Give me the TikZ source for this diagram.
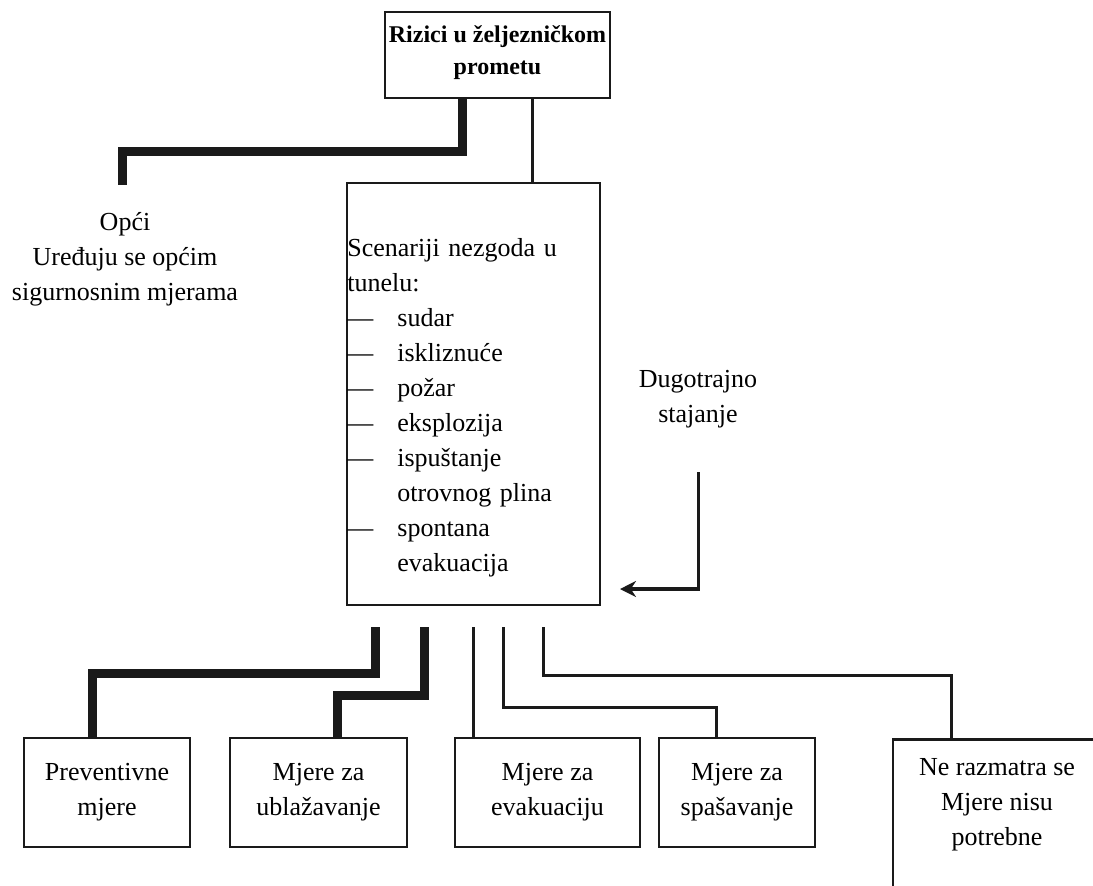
\documentclass[tikz,border=0pt]{standalone}
\usepackage{fontspec}
\setmainfont{Liberation Serif}
\usepackage{xcolor}
\definecolor{mInk}{HTML}{1A1A1A}
\usetikzlibrary{positioning,arrows.meta}
\newcommand{\dashitem}[1]{\makebox[25pt][l]{---}#1}

\begin{document}
\begin{tikzpicture}[x=0.5pt, y=-0.5pt, font=\fontsize{13}{17.5}\selectfont,
  box/.style={draw=mInk, line width=1.4pt, align=center, inner sep=0pt},
  leafbox/.style={box, minimum height=54.5pt},
  thinlink/.style={draw=mInk, line width=1.5pt},
  thicklink/.style={draw=mInk, line width=4.5pt}]
\useasboundingbox (0,0) rectangle (1093,885);
% top and middle
\node[box, minimum width=112.5pt, minimum height=43pt, text depth=4.5pt, font=\bfseries\fontsize{12}{16}\selectfont] (risk) at (497.5,55) {Rizici u željezničkom\\prometu};
\node[box, minimum width=126.5pt, minimum height=211pt] (scen) at (473.5,394) {};
\node[align=left, text width=126pt, inner sep=0pt, anchor=north west] (scentxt) at (347,238) {Scenariji nezgoda u\\tunelu:\\\dashitem{sudar}\\\dashitem{iskliznuće}\\\dashitem{požar}\\\dashitem{eksplozija}\\\dashitem{ispuštanje}\\\hspace*{25pt}otrovnog plina\\\dashitem{spontana}\\\hspace*{25pt}evakuacija};
\node[align=center] (opci) at (125,259) {Opći\\Uređuju se općim\\sigurnosnim mjerama};
\node[align=center] (dugo) at (698,399) {Dugotrajno\\stajanje};
\coordinate (opcitop) at (122,185);
\coordinate (dstart) at (698,472);
\coordinate (dcorner) at (698,589);
\coordinate (darr) at (620,589);
% bottom row
\node[leafbox, minimum width=83pt] (prev) at (107,792.5) {Preventivne\\mjere};
\node[leafbox, minimum width=88.5pt] (ubl) at (318.5,792.5) {Mjere za\\ublažavanje};
\node[leafbox, minimum width=92.5pt] (evak) at (547.5,792.5) {Mjere za\\evakuaciju};
\node[leafbox, minimum width=78pt] (spas) at (737,792.5) {Mjere za\\spašavanje};
\node[box, anchor=north, minimum width=104pt, inner ysep=9.5pt, text depth=14pt] (nerazm) at (997,738) {Ne razmatra se\\Mjere nisu\\potrebne};
\coordinate (s1) at (375,627);
\coordinate (s2) at (424,627);
\coordinate (s3) at (473,627);
\coordinate (s4) at (503,627);
\coordinate (s5) at (543,627);
% links
\draw[thicklink] ([xshift=-17.75pt]risk.south) -- ++(0,52) -| (opcitop);
\draw[thinlink] ([xshift=17.25pt]risk.south) -- ([xshift=17.25pt]risk.south |- scen.north);
\draw[thinlink] (dstart) -- ([yshift=-1.2pt]dcorner);
\draw[draw=mInk, line width=2.4pt, -{Stealth[length=8pt, width=8pt]}] ([xshift=0.7pt]dcorner) -- (darr);
\draw[thicklink] (s1) -- ++(0,46) -| ([xshift=-7.5pt]prev.north);
\draw[thicklink] (s2) -- ++(0,68) -| ([xshift=9.25pt]ubl.north);
\draw[thinlink] (s3) -- (s3 |- evak.north);
\draw[thinlink] (s4) -- ++(0,80) -| ([xshift=-10.5pt]spas.north);
\draw[thinlink] (s5) -- ++(0,48) -| ([xshift=-23pt]nerazm.north);
\end{tikzpicture}
\end{document}
